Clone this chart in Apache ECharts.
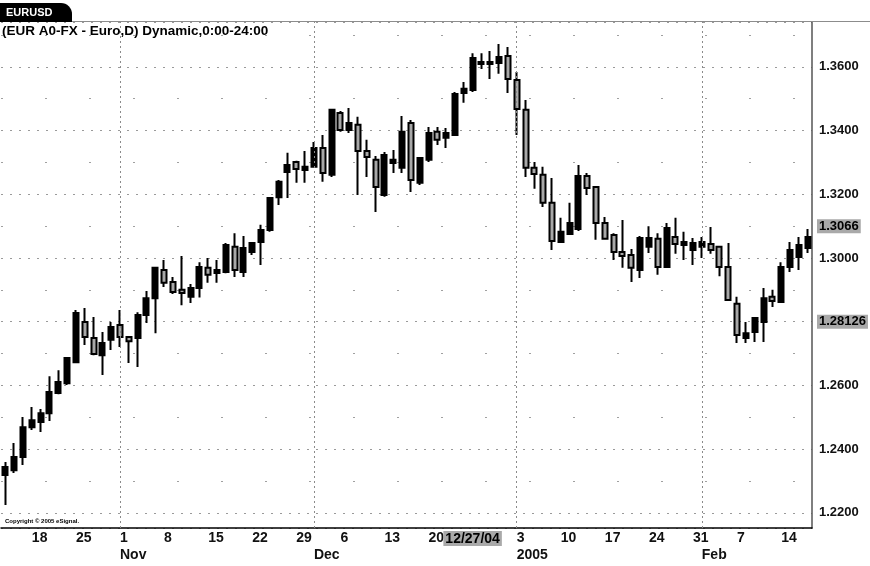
<!DOCTYPE html>
<html><head><meta charset="utf-8">
<script src="https://cdn.jsdelivr.net/npm/echarts/dist/echarts.min.js"></script>
<style>html,body{margin:0;padding:0;background:#fff}#c{width:870px;height:566px}</style>
</head><body><div id="c"></div>
<script>
const dates = [
'2004-10-13','2004-10-14','2004-10-15','2004-10-18','2004-10-19','2004-10-20','2004-10-21','2004-10-22','2004-10-25','2004-10-26','2004-10-27','2004-10-28','2004-10-29',
'2004-11-01','2004-11-02','2004-11-03','2004-11-04','2004-11-05','2004-11-08','2004-11-09','2004-11-10','2004-11-11','2004-11-12','2004-11-15','2004-11-16','2004-11-17','2004-11-18','2004-11-19','2004-11-22','2004-11-23','2004-11-24','2004-11-25','2004-11-26','2004-11-29','2004-11-30',
'2004-12-01','2004-12-02','2004-12-03','2004-12-06','2004-12-07','2004-12-08','2004-12-09','2004-12-10','2004-12-13','2004-12-14','2004-12-15','2004-12-16','2004-12-17','2004-12-20','2004-12-21','2004-12-22','2004-12-23','2004-12-24','2004-12-27','2004-12-28','2004-12-29','2004-12-30','2004-12-31',
'2005-01-03','2005-01-04','2005-01-05','2005-01-06','2005-01-07','2005-01-10','2005-01-11','2005-01-12','2005-01-13','2005-01-14','2005-01-17','2005-01-18','2005-01-19','2005-01-20','2005-01-21','2005-01-24','2005-01-25','2005-01-26','2005-01-27','2005-01-28','2005-01-31',
'2005-02-01','2005-02-02','2005-02-03','2005-02-04','2005-02-07','2005-02-08','2005-02-09','2005-02-10','2005-02-11','2005-02-14','2005-02-15','2005-02-16','2005-02-17'];

const opens = [1.2319,1.2334,1.2375,1.2469,1.2485,1.2513,1.2576,1.2607,1.2673,1.2799,1.2749,1.2695,1.2743,
1.2790,1.2752,1.2749,1.2821,1.2874,1.2962,1.2925,1.2900,1.2878,1.2906,1.2969,1.2953,1.2956,1.3035,1.2956,1.3019,1.3050,1.3088,1.3191,1.3270,1.3301,1.3276,
1.3286,1.3345,1.3261,1.3455,1.3402,1.3418,1.3336,1.3308,1.3198,1.3298,1.3283,1.3424,1.3236,1.3308,1.3396,1.3377,1.3386,1.3518,1.3527,1.3609,1.3615,1.3612,1.3634,
1.3559,1.3465,1.3283,1.3261,1.3173,1.3050,1.3075,1.3091,1.3257,1.3223,1.3110,1.3072,1.3019,1.3009,1.2962,1.3035,1.3060,1.2972,1.3066,1.3041,1.3025,
1.3035,1.3044,1.3035,1.2972,1.2856,1.2749,1.2768,1.2799,1.2878,1.2862,1.2972,1.3003,1.3031];
const closes = [1.2344,1.2375,1.2469,1.2491,1.2513,1.2579,1.2611,1.2686,1.2827,1.2752,1.2699,1.2733,1.2783,
1.2752,1.2739,1.2821,1.2874,1.2969,1.2922,1.2893,1.2890,1.2906,1.2972,1.2947,1.2962,1.3041,1.2962,1.3031,1.3047,1.3088,1.3188,1.3239,1.3292,1.3279,1.3286,
1.3345,1.3267,1.3465,1.3402,1.3424,1.3336,1.3317,1.3223,1.3323,1.3308,1.3396,1.3245,1.3314,1.3392,1.3371,1.3392,1.3515,1.3531,1.3628,1.3615,1.3609,1.3631,1.3562,
1.3468,1.3283,1.3264,1.3173,1.3053,1.3082,1.3110,1.3257,1.3220,1.3110,1.3060,1.3019,1.3006,1.2969,1.3063,1.3063,1.2972,1.3094,1.3044,1.3050,1.3047,
1.3050,1.3025,1.2972,1.2868,1.2758,1.2764,1.2812,1.2874,1.2865,1.2972,1.3025,1.3041,1.3066];
const lows = [1.2225,1.2325,1.2350,1.2460,1.2454,1.2488,1.2572,1.2601,1.2670,1.2727,1.2695,1.2633,1.2711,
1.2721,1.2670,1.2658,1.2796,1.2764,1.2909,1.2887,1.2852,1.2859,1.2876,1.2922,1.2922,1.2952,1.2940,1.2940,1.3009,1.2978,1.3082,1.3166,1.3188,1.3236,1.3236,
1.3283,1.3239,1.3254,1.3396,1.3392,1.3198,1.3254,1.3144,1.3192,1.3267,1.3267,1.3207,1.3229,1.3301,1.3355,1.3345,1.3383,1.3487,1.3521,1.3593,1.3562,1.3578,1.3518,
1.3386,1.3254,1.3217,1.3160,1.3025,1.3047,1.3072,1.3085,1.3198,1.3057,1.3057,1.2994,1.2969,1.2925,1.2937,1.3016,1.2947,1.2969,1.3013,1.2994,1.2978,
1.3000,1.3013,1.2943,1.2865,1.2733,1.2733,1.2736,1.2736,1.2846,1.2860,1.2956,1.2962,1.3016];
const highs = [1.2360,1.2419,1.2501,1.2532,1.2526,1.2629,1.2648,1.2689,1.2837,1.2843,1.2815,1.2768,1.2799,
1.2837,1.2755,1.2830,1.2896,1.2972,1.2994,1.2940,1.3006,1.2918,1.2987,1.3000,1.2994,1.3047,1.3078,1.3069,1.3050,1.3104,1.3190,1.3245,1.3330,1.3305,1.3336,
1.3364,1.3386,1.3468,1.3461,1.3471,1.3443,1.3371,1.3320,1.3333,1.3339,1.3446,1.3433,1.3317,1.3411,1.3411,1.3408,1.3521,1.3552,1.3643,1.3643,1.3650,1.3672,1.3662,
1.3584,1.3496,1.3301,1.3286,1.3251,1.3126,1.3173,1.3292,1.3267,1.3226,1.3129,1.3078,1.3119,1.3028,1.3069,1.3100,1.3078,1.3110,1.3126,1.3082,1.3063,
1.3066,1.3097,1.3038,1.3047,1.2878,1.2799,1.2815,1.2906,1.2900,1.2987,1.3050,1.3066,1.3091];

const weekTickDates = ['2004-10-18','2004-10-25','2004-11-01','2004-11-08','2004-11-15','2004-11-22','2004-11-29','2004-12-06','2004-12-13','2004-12-20','2005-01-03','2005-01-10','2005-01-17','2005-01-24','2005-01-31','2005-02-07','2005-02-14'];
const weekTickLabels = ['18','25','1','8','15','22','29','6','13','20','3','10','17','24','31','7','14'];
const monthDates = ['2004-11-01','2004-12-01','2005-01-03','2005-02-01'];
const monthLabels = ['Nov','Dec','2005','Feb'];
const cursorDate = '2004-12-27';
const cursorLabel = '12/27/04';
const priceFlags = [1.3066, 1.28126];
const yTickLabels = ['1.2200','1.2400','1.2600','1.2800','1.3000','1.3200','1.3400','1.3600'];

const candleData = dates.map((d, i) => [opens[i], closes[i], lows[i], highs[i]]);
const weekMap = {}; weekTickDates.forEach((d, i) => weekMap[d] = weekTickLabels[i]);
const monthMap = {}; monthDates.forEach((d, i) => monthMap[d] = monthLabels[i]);

const FONT = 'Liberation Sans, Arial, sans-serif';
const CLEAR = 'rgba(255,255,255,0)';
const chart = echarts.init(document.getElementById('c'), null, {renderer: 'canvas'});

const markData = monthDates.map(d => ({
  xAxis: d, label: {show: false},
  lineStyle: {color: '#8a8a8a', type: [2, 3], width: 1}
}));
markData.push({
  xAxis: cursorDate,
  lineStyle: {color: CLEAR, width: 1, type: 'solid'},
  label: {show: true, position: 'start', formatter: cursorLabel, distance: 3,
    backgroundColor: '#a9a9a9', color: '#000', fontWeight: 'bold', fontSize: 14,
    fontFamily: FONT, padding: [1, 2, 0, 2]}
});
priceFlags.forEach(v => markData.push({
  yAxis: v,
  lineStyle: {color: CLEAR, width: 1, type: 'solid'},
  label: {show: true, position: 'end', formatter: String(v), distance: 5,
    backgroundColor: '#a9a9a9', color: '#000', fontWeight: 'bold', fontSize: 13,
    fontFamily: FONT, padding: [1, 2, 0, 2]}
}));

chart.setOption({
  animation: false,
  backgroundColor: '#fff',
  title: {
    text: '(EUR A0-FX - Euro,D) Dynamic,0:00-24:00',
    left: 2, top: 24, padding: 0,
    textStyle: {fontFamily: FONT, fontWeight: 'bold', fontSize: 13.5, color: '#000'}
  },
  graphic: [
    {type: 'line', shape: {x1: 0, y1: 21.5, x2: 870, y2: 21.5}, style: {stroke: '#8c8c8c', lineWidth: 1}, z: 10},
    {type: 'rect', shape: {x: 0, y: 3, width: 72, height: 19, r: [0, 11, 0, 0]}, style: {fill: '#000'}, z: 11},
    {type: 'text', x: 6, y: 7, style: {text: 'EURUSD', fill: '#fff', font: 'bold 11px Liberation Sans, Arial'}, z: 12},
    {type: 'text', x: 5, y: 518, style: {text: 'Copyright © 2005 eSignal.', fill: '#000', font: 'bold 6px Liberation Sans, Arial'}, z: 12}
  ],
  grid: {left: 1, right: 58, top: 22, bottom: 38},
  xAxis: {
    type: 'category',
    data: dates,
    boundaryGap: true,
    axisLine: {show: true, lineStyle: {color: '#000', width: 1.5}},
    axisTick: {show: false},
    splitLine: {show: false},
    axisLabel: {
      interval: (idx, value) => (value in weekMap) || (value in monthMap),
      formatter: value => {
        const d = weekMap[value] || '';
        const m = monthMap[value];
        return m ? d + '\n' + m : d;
      },
      align: 'left', margin: 2, lineHeight: 17,
      fontFamily: FONT, fontWeight: 'bold', fontSize: 14, color: '#111'
    }
  },
  yAxis: {
    type: 'value',
    position: 'right',
    scale: true,
    min: 1.21525, max: 1.37407,
    minInterval: 0.02, maxInterval: 0.02,
    axisLine: {show: true, lineStyle: {color: '#555', width: 1.5}},
    axisTick: {show: false},
    axisLabel: {
      showMinLabel: false, showMaxLabel: false, margin: 7,
      formatter: v => { const s = v.toFixed(4); return yTickLabels.indexOf(s) >= 0 ? s : ''; },
      fontFamily: FONT, fontWeight: 'bold', fontSize: 13, color: '#111'
    },
    splitLine: {show: true, lineStyle: {color: '#9a9a9a', type: [2, 7], width: 1}},
    minorTick: {show: false, splitNumber: 2},
    minorSplitLine: {show: true, lineStyle: {color: '#a0a0a0', type: [2, 42], width: 1}}
  },
  series: [{
    type: 'candlestick',
    data: candleData,
    barWidth: 5.5,
    itemStyle: {color: '#000', color0: '#a8a8a8', borderColor: '#000', borderColor0: '#000', borderWidth: 2},
    markLine: {silent: true, symbol: 'none', animation: false, data: markData}
  }]
});
</script></body></html>
